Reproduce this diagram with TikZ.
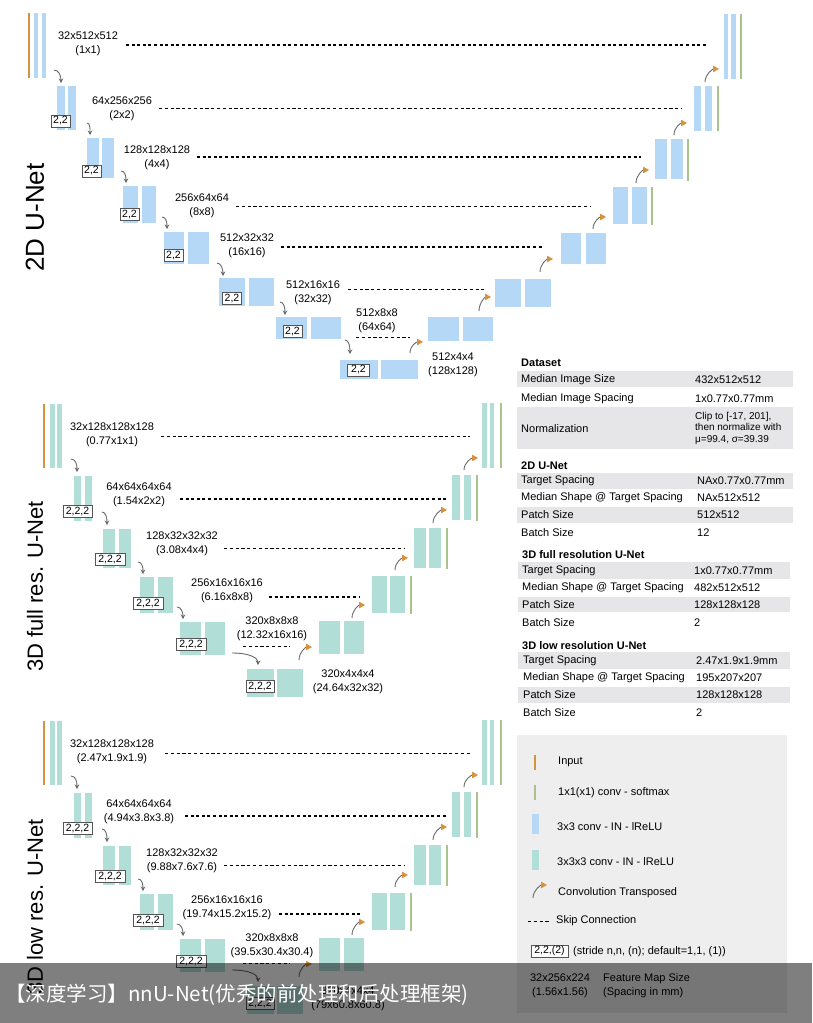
\documentclass[tikz,border=0pt]{standalone}
\usepackage{fontspec}
\setmainfont{Liberation Sans}
\newfontfamily\cjkfont{Noto Sans CJK SC}
\usetikzlibrary{arrows.meta,calc}
\definecolor{blueC}{RGB}{180,216,245}
\definecolor{tealC}{RGB}{178,222,216}
\definecolor{orangeC}{RGB}{214,146,63}
\definecolor{greenC}{RGB}{168,196,140}
\definecolor{arrowC}{RGB}{105,105,105}
\definecolor{rowC}{RGB}{230,230,232}
\definecolor{legC}{RGB}{238,238,238}
\definecolor{boxC}{RGB}{85,85,85}
\tikzset{
 fmap/.style={inner sep=0pt, outer sep=0pt, draw=none, anchor=north west},
 bl/.style={fmap, fill=blueC},
 tl/.style={fmap, fill=tealC},
 inl/.style={fmap, fill=orangeC},
 outl/.style={fmap, fill=greenC},
 rowbg/.style={fmap, fill=rowC},
 legbg/.style={fmap, fill=legC},
 bannerbg/.style={fmap, fill=black, fill opacity=0.5},
 stridebox/.style={draw=boxC, line width=0.6pt, fill=white, inner sep=0pt, minimum height=12pt, font=\fontsize{10.5}{12}\selectfont},
 dims/.style={align=center, font=\fontsize{11}{14}\selectfont, inner sep=0pt},
 skipA/.style={line width=1.5pt, dash pattern=on 3pt off 2.6pt},
 skipB/.style={line width=0.8pt, dash pattern=on 3.2pt off 2.6pt},
 darrow/.style={draw=arrowC, line width=0.9pt, -{Stealth[length=4.5pt,width=4.5pt]}},
 uarrow/.style={draw=arrowC, line width=0.9pt, -{Triangle[length=6pt,width=6.5pt,color=orangeC]}},
 netlabel/.style={rotate=90, inner sep=0pt},
 ttl/.style={anchor=west, font=\fontsize{11}{13}\selectfont\bfseries, inner sep=0pt},
 cell/.style={anchor=west, font=\fontsize{11}{13}\selectfont, inner sep=0pt},
 cellsmall/.style={anchor=west, align=left, font=\fontsize{10}{11.5}\selectfont, inner sep=0pt},
 legtext/.style={anchor=west, font=\fontsize{11}{13}\selectfont, inner sep=0pt},
}
\newcommand\fmb[6]{\node[#2, minimum width={(#5)-(#3)}, minimum height={(#6)-(#4)}] (#1) at (#3,#4) {};}
\newcommand\dar[6]{\coordinate (#1s) at (#2,#3); \coordinate (#1e) at (#4,#5);
 \draw[darrow] (#1s) .. controls +(#6,0) and +(0,-7) .. (#1e);}
\newcommand\uar[5]{\coordinate (#1s) at (#2,#3); \coordinate (#1e) at (#4,#5);
 \draw[uarrow] (#1s) .. controls +(0,-8) and +(-6,0) .. (#1e);}
\newcommand\skp[5]{\coordinate (#1a) at (#3,#5); \coordinate (#1b) at (#4,#5);
 \draw[#2] (#1a) -- (#1b);}
\newcommand\myskA{161}
\newcommand\myskB{180}
\newcommand\myskC{269}
\newcommand\tdnet[8]{%
\begin{scope}[yshift=-#2pt]
\fmb{#1i}{inl}{43}{404}{45}{468}
\fmb{#1l0a}{tl}{50}{404}{55}{468}
\fmb{#1l0b}{tl}{57}{404}{62}{468}
\node[dims] (#1l0t) at (112,435) {#3};
\skp{#1l0s}{skipB}{\myskA}{470}{436}
\dar{#1l0d}{71}{459}{77}{472}{5}
\fmb{#1l1a}{tl}{74}{476}{81}{521}
\fmb{#1l1b}{tl}{85}{476}{92}{521}
\node[stridebox, minimum width=29pt] (#1l1x) at (77.5,511) {2,2,2};
\node[dims] (#1l1t) at (139,494.5) {#4};
\skp{#1l1s}{skipA}{\myskB}{447}{499}
\dar{#1l1d}{102}{512}{107}{525}{4}
\fmb{#1l2a}{tl}{103}{529}{115}{568}
\fmb{#1l2b}{tl}{119}{529}{131}{568}
\node[stridebox, minimum width=30pt] (#1l2x) at (110,559.5) {2,2,2};
\node[dims] (#1l2t) at (182,544) {#5};
\skp{#1l2s}{skipB}{224}{404}{548}
\dar{#1l2d}{138}{562}{143}{574}{4}
\fmb{#1l3a}{tl}{140}{577}{154}{613}
\fmb{#1l3b}{tl}{158}{577}{173}{613}
\node[stridebox, minimum width=30pt] (#1l3x) at (148,603) {2,2,2};
\node[dims] (#1l3t) at (227,591) {#6};
\skp{#1l3s}{skipA}{\myskC}{360}{597}
\dar{#1l3d}{177}{607}{183}{619}{4}
\fmb{#1l4a}{tl}{180}{622}{201}{655}
\fmb{#1l4b}{tl}{205}{622}{225}{655}
\node[stridebox, minimum width=30pt] (#1l4x) at (191,644.5) {2,2,2};
\node[dims] (#1l4t) at (272,629) {#7};
\skp{#1l4s}{skipB}{243}{290}{646}
\dar{#1l4d}{232}{653}{258}{665}{18}
\fmb{#1l5a}{tl}{247}{669}{274}{697}
\fmb{#1l5b}{tl}{277}{669}{303}{697}
\node[stridebox, minimum width=28pt] (#1l5x) at (260,686.5) {2,2,2};
\node[dims] (#1l5t) at (348,681.5) {#8};
\uar{#1u5}{299}{660}{312}{647}
\fmb{#1u4a}{tl}{319}{621}{340}{654}
\fmb{#1u4b}{tl}{344}{621}{364}{654}
\uar{#1u4}{352}{618}{365}{605}
\fmb{#1u3a}{tl}{372}{576}{387}{613}
\fmb{#1u3b}{tl}{390}{576}{405}{613}
\fmb{#1u3g}{outl}{410}{576}{412}{614}
\uar{#1u3}{395}{570}{408}{558}
\fmb{#1u2a}{tl}{414}{528}{426}{568}
\fmb{#1u2b}{tl}{429}{528}{441}{568}
\fmb{#1u2g}{outl}{446}{528}{448}{569}
\uar{#1u2}{433}{523}{447}{510}
\fmb{#1u1a}{tl}{452}{475}{460}{520}
\fmb{#1u1b}{tl}{464}{475}{471}{520}
\fmb{#1u1g}{outl}{476}{475}{478}{521}
\uar{#1u1}{464}{470}{478}{458}
\fmb{#1u0a}{tl}{482}{403}{487}{468}
\fmb{#1u0b}{tl}{490}{403}{494}{468}
\fmb{#1u0g}{outl}{500}{403}{502}{468}
\end{scope}}
\begin{document}
\begin{tikzpicture}[x=1pt,y=-1pt]
\fill[white] (0,0) rectangle (812,1023);
\useasboundingbox (0,0) rectangle (812,1023);
% ---------- 2D U-Net ----------
\node[netlabel, font=\fontsize{26}{26}\selectfont] (n2d) at (35,217.5) {2D U-Net};
\fmb{a0i}{inl}{28}{13}{30}{78}
\fmb{a0a}{bl}{34}{13}{38}{78}
\fmb{a0b}{bl}{42}{13}{46}{78}
\node[dims] (a0t) at (88,43.5) {32x512x512\\(1x1)};
\skp{a0s}{skipA}{126}{706}{45}
\dar{a0d}{54}{70}{61}{83}{5}
\fmb{a1a}{bl}{57}{86}{65}{130}
\fmb{a1b}{bl}{68}{86}{76}{130}
\node[stridebox, minimum width=19pt] (a1x) at (60.5,121) {2,2};
\node[dims] (a1t) at (122,109) {64x256x256\\(2x2)};
\skp{a1s}{skipB}{159}{682}{108}
\dar{a1d}{87}{123}{90}{135}{3}
\fmb{a2a}{bl}{87}{138}{99}{178}
\fmb{a2b}{bl}{102}{138}{114}{178}
\node[stridebox, minimum width=19pt] (a2x) at (91.5,171) {2,2};
\node[dims] (a2t) at (157,158) {128x128x128\\(4x4)};
\skp{a2s}{skipA}{197}{641}{157}
\dar{a2d}{121}{171}{126}{183}{4}
\fmb{a3a}{bl}{123}{186}{138}{223}
\fmb{a3b}{bl}{142}{186}{156}{223}
\node[stridebox, minimum width=19pt] (a3x) at (129.5,214.5) {2,2};
\node[dims] (a3t) at (202,205.5) {256x64x64\\(8x8)};
\skp{a3s}{skipB}{236}{590}{206}
\dar{a3d}{162}{217}{167}{229}{4}
\fmb{a4a}{bl}{164}{232}{184}{264}
\fmb{a4b}{bl}{188}{232}{209}{264}
\node[stridebox, minimum width=19pt] (a4x) at (173.5,255.5) {2,2};
\node[dims] (a4t) at (247,245.5) {512x32x32\\(16x16)};
\skp{a4s}{skipA}{281}{544}{247}
\dar{a4d}{217}{263}{223}{276}{4}
\fmb{a5a}{bl}{219}{278}{245}{306}
\fmb{a5b}{bl}{249}{278}{274}{306}
\node[stridebox, minimum width=19pt] (a5x) at (232,298.5) {2,2};
\node[dims] (a5t) at (313,292.5) {512x16x16\\(32x32)};
\skp{a5s}{skipB}{348}{484}{289}
\dar{a5d}{280}{302}{285}{315}{4}
\fmb{a6a}{bl}{276}{317}{307}{339}
\fmb{a6b}{bl}{311}{317}{341}{339}
\node[stridebox, minimum width=19pt] (a6x) at (292.5,331.5) {2,2};
\node[dims] (a6t) at (377,320.5) {512x8x8\\(64x64)};
\skp{a6s}{skipB}{356}{410}{337}
\dar{a6d}{345}{340}{350}{354}{4}
\fmb{a7a}{bl}{340}{360}{378}{379}
\fmb{a7b}{bl}{381}{360}{418}{379}
\node[stridebox, minimum width=22pt] (a7x) at (358.5,370) {2,2};
\node[dims] (a7t) at (453,364.5) {512x4x4\\(128x128)};
\uar{b7u}{410}{353}{423}{342}
\fmb{b6a}{bl}{428}{317}{459}{341}
\fmb{b6b}{bl}{463}{317}{493}{341}
\uar{b6u}{479}{311}{491}{297}
\fmb{b5a}{bl}{495}{279}{521}{307}
\fmb{b5b}{bl}{525}{279}{551}{307}
\uar{b5u}{540}{272}{553}{259}
\fmb{b4a}{bl}{561}{233}{581}{264}
\fmb{b4b}{bl}{586}{233}{606}{264}
\uar{b4u}{593}{229}{606}{217}
\fmb{b3a}{bl}{613}{187}{628}{224}
\fmb{b3b}{bl}{632}{187}{647}{224}
\fmb{b3g}{outl}{651}{187}{653}{225}
\uar{b3u}{636}{183}{649}{170}
\fmb{b2a}{bl}{655}{139}{667}{179}
\fmb{b2b}{bl}{671}{139}{683}{179}
\fmb{b2g}{outl}{687}{139}{689}{181}
\uar{b2u}{674}{135}{687}{123}
\fmb{b1a}{bl}{694}{86}{701}{131}
\fmb{b1b}{bl}{705}{86}{712}{131}
\fmb{b1g}{outl}{717}{86}{719}{131}
\uar{b1u}{705}{82}{719}{69}
\fmb{b0a}{bl}{724}{14}{728}{79}
\fmb{b0b}{bl}{731}{14}{736}{79}
\fmb{b0g}{outl}{740}{14}{742}{79}
% ---------- 3D nets ----------
\node[netlabel, font=\fontsize{22}{22}\selectfont] (n3f) at (35,586.5) {3D full res. U-Net};
\tdnet{f}{0}{32x128x128x128\\(0.77x1x1)}{64x64x64x64\\(1.54x2x2)}{128x32x32x32\\(3.08x4x4)}{256x16x16x16\\(6.16x8x8)}{320x8x8x8\\(12.32x16x16)}{320x4x4x4\\(24.64x32x32)}
\node[netlabel, font=\fontsize{22}{22}\selectfont] (n3l) at (35,907) {3D low res. U-Net};
\renewcommand\myskA{165}
\renewcommand\myskB{185}
\renewcommand\myskC{279}
\tdnet{w}{317}{32x128x128x128\\(2.47x1.9x1.9)}{64x64x64x64\\(4.94x3.8x3.8)}{128x32x32x32\\(9.88x7.6x7.6)}{256x16x16x16\\(19.74x15.2x15.2)}{320x8x8x8\\(39.5x30.4x30.4)}{320x4x4x4\\(79x60.8x60.8)}
% ---------- tables ----------
\node[ttl] (t0) at (521,363) {Dataset};
\fmb{r01}{rowbg}{517}{371}{793}{387}
\fmb{r03}{rowbg}{517}{407}{793}{449}
\node[cell] (c011) at (521,380) {Median Image Size};
\node[cell] (c012) at (695,380) {432x512x512};
\node[cell] (c021) at (521,399) {Median Image Spacing};
\node[cell] (c022) at (695,399) {1x0.77x0.77mm};
\node[cell] (c031) at (521,429) {Normalization};
\node[cellsmall] (c032) at (695,428) {Clip to [-17, 201],\\then normalize with\\μ=99.4, σ=39.39};
\node[ttl] (t1) at (521,466) {2D U-Net};
\fmb{r11}{rowbg}{517}{473}{793}{489}
\fmb{r13}{rowbg}{517}{507}{793}{523}
\node[cell] (c111) at (521,481) {Target Spacing};
\node[cell] (c112) at (697,481) {NAx0.77x0.77mm};
\node[cell] (c121) at (521,498) {Median Shape @ Target Spacing};
\node[cell] (c122) at (697,498) {NAx512x512};
\node[cell] (c131) at (521,515) {Patch Size};
\node[cell] (c132) at (697,515) {512x512};
\node[cell] (c141) at (521,533) {Batch Size};
\node[cell] (c142) at (697,533) {12};
\node[ttl] (t2) at (522,555) {3D full resolution U-Net};
\fmb{r21}{rowbg}{518}{562}{790}{579}
\fmb{r23}{rowbg}{518}{597}{790}{612}
\node[cell] (c211) at (522,571) {Target Spacing};
\node[cell] (c212) at (694,571) {1x0.77x0.77mm};
\node[cell] (c221) at (522,588) {Median Shape @ Target Spacing};
\node[cell] (c222) at (694,588) {482x512x512};
\node[cell] (c231) at (522,605) {Patch Size};
\node[cell] (c232) at (694,605) {128x128x128};
\node[cell] (c241) at (522,623) {Batch Size};
\node[cell] (c242) at (694,623) {2};
\node[ttl] (t3) at (522,646) {3D low resolution U-Net};
\fmb{r31}{rowbg}{518}{652}{790}{669}
\fmb{r33}{rowbg}{518}{687}{790}{703}
\node[cell] (c311) at (523,661) {Target Spacing};
\node[cell] (c312) at (696,661) {2.47x1.9x1.9mm};
\node[cell] (c321) at (523,678) {Median Shape @ Target Spacing};
\node[cell] (c322) at (696,678) {195x207x207};
\node[cell] (c331) at (523,695) {Patch Size};
\node[cell] (c332) at (696,695) {128x128x128};
\node[cell] (c341) at (523,713) {Batch Size};
\node[cell] (c342) at (696,713) {2};
% ---------- legend ----------
\fmb{leg}{legbg}{517}{735}{787}{1013}
\fmb{lgi}{inl}{534}{755}{536}{770}
\node[legtext] (lgit) at (558,762) {Input};
\fmb{lgo}{outl}{534}{785}{536}{800}
\node[legtext] (lgot) at (558,793) {1x1(x1) conv - softmax};
\fmb{lgb}{bl}{532}{814}{539}{834}
\node[legtext] (lgbt) at (557,827) {3x3 conv - IN - lReLU};
\fmb{lgt}{tl}{532}{850}{539}{870}
\node[legtext] (lgtt) at (557,862) {3x3x3 conv - IN - lReLU};
\uar{lgu}{533}{898}{547}{885}
\node[legtext] (lgut) at (558,893) {Convolution Transposed};
\skp{lgs}{skipB}{528}{549}{921}
\node[legtext] (lgst) at (556,921) {Skip Connection};
\node[stridebox, minimum width=37pt] (lgx) at (549.5,951) {2,2,(2)};
\node[legtext] (lgxt) at (573,952) {(stride n,n, (n); default=1,1, (1))};
\node[dims, font=\fontsize{11}{14}\selectfont] (lgf) at (560,985.5) {32x256x224\\(1.56x1.56)};
\node[legtext, align=left, font=\fontsize{11}{14}\selectfont] (lgft) at (603,985.5) {Feature Map Size\\(Spacing in mm)};
% ---------- banner ----------
\fmb{ban}{bannerbg}{0}{963}{812}{1023}
\node[anchor=west, inner sep=0pt, text=white, font=\cjkfont\fontsize{20.5}{20.5}\selectfont] (bant) at (5,995) {【深度学习】nnU-Net(优秀的前处理和后处理框架)};
\end{tikzpicture}
\end{document}
